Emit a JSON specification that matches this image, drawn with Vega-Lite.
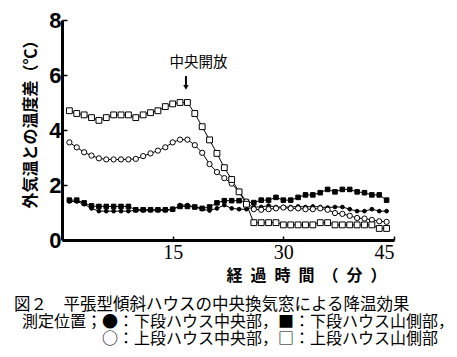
{
  "$schema": "https://vega.github.io/schema/vega-lite/v6.json",
  "width": 332,
  "height": 220,
  "autosize": {"type": "none"},
  "padding": {"left": 62, "top": 20, "right": 63, "bottom": 117},
  "background": "white",
  "config": {
    "view": {"stroke": null},
    "font": "Noto Sans CJK JP",
    "axis": {"grid": false, "domainColor": "black", "domainWidth": 3, "tickColor": "black", "labelColor": "black", "titleColor": "black"}
  },
  "title": {
    "text": "図２　平張型傾斜ハウスの中央換気窓による降温効果",
    "subtitle": ["\u200B\u2002測定位置；●：下段ハウス中央部，■：下段ハウス山側部，", "\u200B\u2002　　　　　○：上段ハウス中央部，□：上段ハウス山側部"],
    "orient": "bottom",
    "anchor": "start",
    "frame": "group",
    "dx": -48,
    "offset": 14,
    "fontSize": 16.5,
    "fontWeight": "normal",
    "color": "black",
    "subtitleFontSize": 16,
    "subtitleColor": "black",
    "subtitleLineHeight": 17,
    "subtitlePadding": 0
  },
  "datasets": {
    "main": [
      {"t":1,"s":"下段中央","v":1.4},{"t":2,"s":"下段中央","v":1.4},{"t":3,"s":"下段中央","v":1.3},{"t":4,"s":"下段中央","v":1.15},{"t":5,"s":"下段中央","v":1.05},{"t":6,"s":"下段中央","v":1.05},{"t":7,"s":"下段中央","v":1.05},{"t":8,"s":"下段中央","v":1.05},{"t":9,"s":"下段中央","v":1.05},{"t":10,"s":"下段中央","v":1.08},{"t":11,"s":"下段中央","v":1.08},{"t":12,"s":"下段中央","v":1.08},{"t":13,"s":"下段中央","v":1.08},{"t":14,"s":"下段中央","v":1.08},{"t":15,"s":"下段中央","v":1.1},{"t":16,"s":"下段中央","v":1.27},{"t":17,"s":"下段中央","v":1.27},{"t":18,"s":"下段中央","v":1.2},{"t":19,"s":"下段中央","v":1.12},{"t":20,"s":"下段中央","v":1.07},{"t":21,"s":"下段中央","v":1.15},{"t":22,"s":"下段中央","v":1.27},{"t":23,"s":"下段中央","v":1.15},{"t":24,"s":"下段中央","v":1.12},{"t":25,"s":"下段中央","v":1.12},{"t":26,"s":"下段中央","v":1.2},{"t":27,"s":"下段中央","v":1.2},{"t":28,"s":"下段中央","v":1.25},{"t":29,"s":"下段中央","v":1.2},{"t":30,"s":"下段中央","v":1.2},{"t":31,"s":"下段中央","v":1.2},{"t":32,"s":"下段中央","v":1.22},{"t":33,"s":"下段中央","v":1.2},{"t":34,"s":"下段中央","v":1.22},{"t":35,"s":"下段中央","v":1.2},{"t":36,"s":"下段中央","v":1.18},{"t":37,"s":"下段中央","v":1.2},{"t":38,"s":"下段中央","v":1.2},{"t":39,"s":"下段中央","v":1.12},{"t":40,"s":"下段中央","v":1.05},{"t":41,"s":"下段中央","v":1.05},{"t":42,"s":"下段中央","v":1.12},{"t":43,"s":"下段中央","v":1.05},{"t":44,"s":"下段中央","v":1.05},
      {"t":1,"s":"下段山側","v":1.45},{"t":2,"s":"下段山側","v":1.45},{"t":3,"s":"下段山側","v":1.35},{"t":4,"s":"下段山側","v":1.24},{"t":5,"s":"下段山側","v":1.22},{"t":6,"s":"下段山側","v":1.22},{"t":7,"s":"下段山側","v":1.22},{"t":8,"s":"下段山側","v":1.22},{"t":9,"s":"下段山側","v":1.22},{"t":10,"s":"下段山側","v":1.1},{"t":11,"s":"下段山側","v":1.1},{"t":12,"s":"下段山側","v":1.1},{"t":13,"s":"下段山側","v":1.1},{"t":14,"s":"下段山側","v":1.1},{"t":15,"s":"下段山側","v":1.12},{"t":16,"s":"下段山側","v":1.22},{"t":17,"s":"下段山側","v":1.22},{"t":18,"s":"下段山側","v":1.2},{"t":19,"s":"下段山側","v":1.15},{"t":20,"s":"下段山側","v":1.2},{"t":21,"s":"下段山側","v":1.35},{"t":22,"s":"下段山側","v":1.43},{"t":23,"s":"下段山側","v":1.43},{"t":24,"s":"下段山側","v":1.43},{"t":25,"s":"下段山側","v":1.38},{"t":26,"s":"下段山側","v":1.36},{"t":27,"s":"下段山側","v":1.45},{"t":28,"s":"下段山側","v":1.45},{"t":29,"s":"下段山側","v":1.55},{"t":30,"s":"下段山側","v":1.45},{"t":31,"s":"下段山側","v":1.45},{"t":32,"s":"下段山側","v":1.55},{"t":33,"s":"下段山側","v":1.64},{"t":34,"s":"下段山側","v":1.64},{"t":35,"s":"下段山側","v":1.72},{"t":36,"s":"下段山側","v":1.84},{"t":37,"s":"下段山側","v":1.75},{"t":38,"s":"下段山側","v":1.84},{"t":39,"s":"下段山側","v":1.84},{"t":40,"s":"下段山側","v":1.75},{"t":41,"s":"下段山側","v":1.72},{"t":42,"s":"下段山側","v":1.64},{"t":43,"s":"下段山側","v":1.64},{"t":44,"s":"下段山側","v":1.45},
      {"t":1,"s":"上段中央","v":3.55},{"t":2,"s":"上段中央","v":3.37},{"t":3,"s":"上段中央","v":3.19},{"t":4,"s":"上段中央","v":3.07},{"t":5,"s":"上段中央","v":2.97},{"t":6,"s":"上段中央","v":2.93},{"t":7,"s":"上段中央","v":2.93},{"t":8,"s":"上段中央","v":2.93},{"t":9,"s":"上段中央","v":2.93},{"t":10,"s":"上段中央","v":2.95},{"t":11,"s":"上段中央","v":3.05},{"t":12,"s":"上段中央","v":3.15},{"t":13,"s":"上段中央","v":3.25},{"t":14,"s":"上段中央","v":3.37},{"t":15,"s":"上段中央","v":3.55},{"t":16,"s":"上段中央","v":3.65},{"t":17,"s":"上段中央","v":3.65},{"t":18,"s":"上段中央","v":3.45},{"t":19,"s":"上段中央","v":3.17},{"t":20,"s":"上段中央","v":2.76},{"t":21,"s":"上段中央","v":2.47},{"t":22,"s":"上段中央","v":2.25},{"t":23,"s":"上段中央","v":2.05},{"t":24,"s":"上段中央","v":1.75},{"t":25,"s":"上段中央","v":1.4},{"t":26,"s":"上段中央","v":1.12},{"t":27,"s":"上段中央","v":1.1},{"t":28,"s":"上段中央","v":1.12},{"t":29,"s":"上段中央","v":1.15},{"t":30,"s":"上段中央","v":1.18},{"t":31,"s":"上段中央","v":1.15},{"t":32,"s":"上段中央","v":1.15},{"t":33,"s":"上段中央","v":1.12},{"t":34,"s":"上段中央","v":1.12},{"t":35,"s":"上段中央","v":1.15},{"t":36,"s":"上段中央","v":1.1},{"t":37,"s":"上段中央","v":0.98},{"t":38,"s":"上段中央","v":0.95},{"t":39,"s":"上段中央","v":0.88},{"t":40,"s":"上段中央","v":0.8},{"t":41,"s":"上段中央","v":0.78},{"t":42,"s":"上段中央","v":0.73},{"t":43,"s":"上段中央","v":0.68},{"t":44,"s":"上段中央","v":0.66},
      {"t":1,"s":"上段山側","v":4.7},{"t":2,"s":"上段山側","v":4.6},{"t":3,"s":"上段山側","v":4.55},{"t":4,"s":"上段山側","v":4.45},{"t":5,"s":"上段山側","v":4.35},{"t":6,"s":"上段山側","v":4.45},{"t":7,"s":"上段山側","v":4.55},{"t":8,"s":"上段山側","v":4.55},{"t":9,"s":"上段山側","v":4.55},{"t":10,"s":"上段山側","v":4.45},{"t":11,"s":"上段山側","v":4.55},{"t":12,"s":"上段山側","v":4.63},{"t":13,"s":"上段山側","v":4.7},{"t":14,"s":"上段山側","v":4.85},{"t":15,"s":"上段山側","v":4.95},{"t":16,"s":"上段山側","v":5.0},{"t":17,"s":"上段山側","v":5.0},{"t":18,"s":"上段山側","v":4.6},{"t":19,"s":"上段山側","v":4.12},{"t":20,"s":"上段山側","v":3.64},{"t":21,"s":"上段山側","v":3.15},{"t":22,"s":"上段山側","v":2.63},{"t":23,"s":"上段山側","v":2.2},{"t":24,"s":"上段山側","v":1.75},{"t":25,"s":"上段山側","v":1.3},{"t":26,"s":"上段山側","v":0.63},{"t":27,"s":"上段山側","v":0.63},{"t":28,"s":"上段山側","v":0.63},{"t":29,"s":"上段山側","v":0.63},{"t":30,"s":"上段山側","v":0.55},{"t":31,"s":"上段山側","v":0.55},{"t":32,"s":"上段山側","v":0.55},{"t":33,"s":"上段山側","v":0.55},{"t":34,"s":"上段山側","v":0.55},{"t":35,"s":"上段山側","v":0.63},{"t":36,"s":"上段山側","v":0.63},{"t":37,"s":"上段山側","v":0.55},{"t":38,"s":"上段山側","v":0.55},{"t":39,"s":"上段山側","v":0.55},{"t":40,"s":"上段山側","v":0.55},{"t":41,"s":"上段山側","v":0.55},{"t":42,"s":"上段山側","v":0.55},{"t":43,"s":"上段山側","v":0.42},{"t":44,"s":"上段山側","v":0.42}
    ],
    "note": [{"t": 18.5, "v": 6.44, "label": "中央開放", "t1": 16.8, "v1": 5.96, "v2": 5.55}]
  },
  "layer": [
    {
      "data": {"name": "main"},
      "mark": {"type": "line", "color": "black", "strokeWidth": 1},
      "encoding": {
        "x": {"field": "t", "type": "quantitative", "scale": {"domain": [0, 45], "nice": false},
          "axis": {"values": [15, 30, 45], "tickSize": -4, "tickWidth": 1.5, "labelFontSize": 20, "labelPadding": 6, "labelFont": "Liberation Sans Narrow", "labelFontWeight": "normal",
            "title": "経\u2002過\u2002時\u2002間\u2002（\u2002分\u2002）", "titleFontSize": 16, "titleFontWeight": "bold", "titleX": 244, "titleY": 35, "titleBaseline": "middle", "titleAlign": "center"}},
        "y": {"field": "v", "type": "quantitative", "scale": {"domain": [0, 8], "nice": false},
          "axis": {"values": [0, 2, 4, 6, 8], "tickSize": -5, "tickWidth": 1.5, "labelFontSize": 22, "labelFontWeight": "bold", "labelFont": "Liberation Sans", "labelPadding": 6, "labelAlign": "right",
            "title": "外気温との温度差（℃）", "titleFontSize": 16, "titleFontWeight": "bold", "titleAngle": -90, "titleX": -32, "titleY": 100, "titleBaseline": "middle", "titleAlign": "center"}},
        "detail": {"field": "s"}
      }
    },
    {
      "data": {"name": "main"},
      "mark": {"type": "point", "stroke": "black", "strokeWidth": 1, "opacity": 1},
      "encoding": {
        "x": {"field": "t", "type": "quantitative"},
        "y": {"field": "v", "type": "quantitative"},
        "shape": {"field": "s", "type": "nominal", "scale": {"domain": ["下段中央", "下段山側", "上段中央", "上段山側"], "range": ["circle", "square", "circle", "square"]}, "legend": null},
        "fill": {"field": "s", "type": "nominal", "scale": {"domain": ["下段中央", "下段山側", "上段中央", "上段山側"], "range": ["black", "black", "white", "white"]}, "legend": null},
        "size": {"field": "s", "type": "nominal", "scale": {"domain": ["下段中央", "下段山側", "上段中央", "上段山側"], "range": [14, 34, 26, 52]}, "legend": null}
      }
    },
    {
      "data": {"name": "note"},
      "mark": {"type": "text", "fontSize": 14.5, "color": "black", "baseline": "middle", "align": "center"},
      "encoding": {
        "x": {"field": "t", "type": "quantitative"},
        "y": {"field": "v", "type": "quantitative"},
        "text": {"field": "label"}
      }
    },
    {
      "data": {"name": "note"},
      "mark": {"type": "rule", "color": "black", "strokeWidth": 2},
      "encoding": {
        "x": {"field": "t1", "type": "quantitative"},
        "y": {"field": "v1", "type": "quantitative"},
        "y2": {"field": "v2"}
      }
    },
    {
      "data": {"name": "note"},
      "mark": {"type": "point", "shape": "triangle-down", "filled": true, "color": "black", "size": 30, "opacity": 1},
      "encoding": {
        "x": {"field": "t1", "type": "quantitative"},
        "y": {"field": "v2", "type": "quantitative"}
      }
    }
  ]
}
